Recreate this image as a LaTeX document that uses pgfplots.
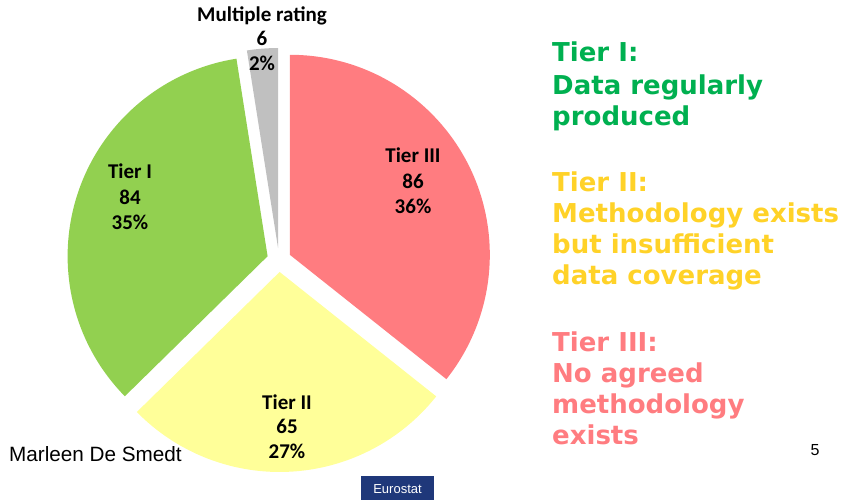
\documentclass[border=0pt]{standalone}
\usepackage{pgfplots}
\pgfplotsset{compat=1.18}
\usepackage{pgfplotstable}
\usetikzlibrary{calc}
\usepackage{fontspec}
\setmainfont{Carlito}
\newfontfamily\verd{DejaVu Sans}
\newfontfamily\arial{Liberation Sans}
\definecolor{cI}{RGB}{146,208,80}
\definecolor{cII}{RGB}{255,255,153}
\definecolor{cIII}{RGB}{255,124,128}
\definecolor{cM}{RGB}{192,192,192}
\definecolor{tI}{RGB}{0,176,80}
\definecolor{tII}{RGB}{255,210,40}
\definecolor{tIII}{RGB}{255,124,128}
\definecolor{euro}{RGB}{31,56,122}

\pgfplotstableread{
tier value
III 86
II 65
I 84
M 6
}\piedata

% start angle, end angle, mid angle, colour
\newcommand\pieslice[4]{%
  \fill[#4] ($(axis cs:279,240)+(#3:12)$) -- ++(#1:200) arc[start angle=#1, end angle=#2, radius=200] -- cycle;}

\begin{document}
\begin{tikzpicture}
\pgfplotstablegetelem{0}{value}\of\piedata \let\vIII\pgfplotsretval
\pgfplotstablegetelem{1}{value}\of\piedata \let\vII\pgfplotsretval
\pgfplotstablegetelem{2}{value}\of\piedata \let\vI\pgfplotsretval
\pgfplotstablegetelem{3}{value}\of\piedata \let\vM\pgfplotsretval
\pgfmathsetmacro\tot{\vIII+\vII+\vI+\vM}
\pgfmathsetmacro\aA{90}
\pgfmathsetmacro\aB{\aA-(\vIII/\tot)*360}
\pgfmathsetmacro\aC{\aB-(\vII/\tot)*360}
\pgfmathsetmacro\aD{\aC-(\vI/\tot)*360}
\pgfmathsetmacro\aE{\aD-(\vM/\tot)*360}
\pgfmathsetmacro\mA{(\aA+\aB)/2}
\pgfmathsetmacro\mB{(\aB+\aC)/2}
\pgfmathsetmacro\mC{(\aC+\aD)/2}
\pgfmathsetmacro\mD{(\aD+\aE)/2}
\begin{axis}[scale only axis, width=846pt, height=500pt,
  xmin=0, xmax=846, ymin=0, ymax=500,
  hide axis, clip=false]
\path (axis cs:0,0) rectangle (axis cs:846,500);
\pieslice{\aA}{\aB}{\mA}{cIII}
\pieslice{\aB}{\aC}{\mB}{cII}
\pieslice{\aC}{\aD}{\mC}{cI}
\pieslice{\aD}{\aE}{\mD}{cM}
% slice labels
\begin{scope}[every node/.style={anchor=base, font=\bfseries\fontsize{21}{21}\selectfont}]
\node at (axis cs:262,478) {Multiple rating};
\node at (axis cs:262,454) {6};
\node at (axis cs:262,429) {2\%};
\node at (axis cs:130,321) {Tier I};
\node at (axis cs:130,295) {84};
\node at (axis cs:130,270) {35\%};
\node at (axis cs:413,337) {Tier III};
\node at (axis cs:413,311) {86};
\node at (axis cs:413,286) {36\%};
\node at (axis cs:287,90) {Tier II};
\node at (axis cs:287,66) {65};
\node at (axis cs:287,41) {27\%};
\end{scope}
% right-hand text
\begin{scope}[every node/.style={anchor=base west, inner sep=0pt, font=\verd\bfseries\fontsize{26}{26}\selectfont}]
\node[text=tI] at (axis cs:552,438) {Tier I:};
\node[text=tI] at (axis cs:552,405) {Data regularly};
\node[text=tI] at (axis cs:552,374) {produced};
\node[text=tII] at (axis cs:552,308) {Tier II:};
\node[text=tII] at (axis cs:552,277) {Methodology exists};
\node[text=tII] at (axis cs:552,246) {but insufficient};
\node[text=tII] at (axis cs:552,215) {data coverage};
\node[text=tIII] at (axis cs:552,148) {Tier III:};
\node[text=tIII] at (axis cs:552,117) {No agreed};
\node[text=tIII] at (axis cs:552,86) {methodology};
\node[text=tIII] at (axis cs:552,55) {exists};
\end{scope}
\node[anchor=base west, inner sep=0pt, font=\arial\fontsize{20.7}{20.7}\selectfont] at (axis cs:9,38) {Marleen De Smedt};
\node[anchor=base, inner sep=0pt, font=\arial\fontsize{16}{16}\selectfont] at (axis cs:815,44) {5};
\fill[euro] (axis cs:361,0) rectangle (axis cs:434,24);
\node[text=white, inner sep=0pt, font=\arial\fontsize{13}{13}\selectfont] at (axis cs:397.5,11) {Eurostat};
\end{axis}
\end{tikzpicture}
\end{document}
